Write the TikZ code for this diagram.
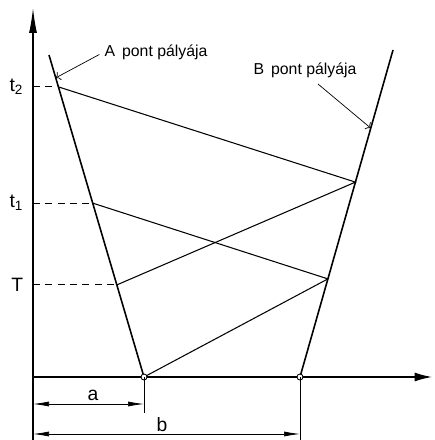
\documentclass[tikz,border=0pt]{standalone}
\usepackage{fontspec}
\setmainfont{Liberation Sans}
\usetikzlibrary{arrows.meta,calc}
\tikzset{
  axe/.style={line width=0.7pt},
  trajet/.style={line width=0.9pt},
  signal/.style={line width=0.6pt},
  repere/.style={line width=0.5pt,dash pattern=on 4pt off 3pt},
  cote/.style={line width=0.4pt,{Latex[length=3.2mm,width=1mm]}-{Latex[length=3.2mm,width=1mm]}},
  etiquette/.style={font=\fontsize{9}{11}\selectfont},
  lettre/.style={font=\fontsize{11}{13}\selectfont},
}
\begin{document}
\begin{tikzpicture}[scale=1]
    \useasboundingbox (-0.66,-1.26) rectangle (8.04,7.54);

    % Axes
    \coordinate (O) at (0,0);
    \coordinate (ybas) at (0,-1.26);
    \coordinate (yhaut) at (0,7.38);
    \coordinate (xfin) at (7.98,0);
    \draw[axe,-{Latex[length=5mm,width=1.6mm]}] (ybas) -- (yhaut);
    \draw[axe,-{Latex[length=3.5mm,width=1.8mm]}] (O) -- (xfin);

    % Trajectoires des points A et B
    \coordinate (a0) at (2.22,0);
    \coordinate (afin) at (0.32,6.44);
    \coordinate (b0) at (5.34,0);
    \coordinate (bfin) at (7.2,6.54);
    \draw[trajet] (a0) -- (afin);
    \draw[trajet] (b0) -- (bfin);

    % Signaux aller-retour
    \coordinate (aT) at ($(a0)!0.286!(afin)$);
    \coordinate (a1) at ($(a0)!0.540!(afin)$);
    \coordinate (a2) at ($(a0)!0.901!(afin)$);
    \coordinate (b1) at ($(b0)!0.300!(bfin)$);
    \coordinate (b2) at ($(b0)!0.596!(bfin)$);
    \draw[signal] (a0) -- (b1) -- (a1);
    \draw[signal] (aT) -- (b2) -- (a2);

    % Reperes des instants
    \coordinate (yT) at (O |- aT);
    \coordinate (y1) at (O |- a1);
    \coordinate (y2) at (O |- a2);
    \draw[repere] (yT) -- (aT);
    \draw[repere] (y1) -- (a1);
    \draw[repere] (y2) -- (a2);
    \node[lettre, left, xshift=-2pt] (lT) at (yT) {T};
    \node[lettre, left, xshift=-2pt] (l1) at (y1) {t\textsubscript{1}};
    \node[lettre, left, xshift=-2pt] (l2) at (y2) {t\textsubscript{2}};

    % Legendes des trajectoires
    \node[etiquette] (legA) at (2.46,6.5) {A\, pont pályája};
    \coordinate (flecheA) at ($(a0)!0.929!(afin)$);
    \draw[line width=0.4pt,->] ($(legA.west)+(0.02,-0.05)$) -- (flecheA);
    \node[etiquette] (legB) at (5.44,6.14) {B\, pont pályája};
    \coordinate (departB) at (5.7,5.86);
    \coordinate (flecheB) at ($(b0)!0.761!(bfin)$);
    \draw[line width=0.4pt,->] (departB) -- (flecheB);

    % Points de depart
    \draw[line width=0.5pt,fill=white] (a0) circle (0.06);
    \draw[line width=0.5pt,fill=white] (b0) circle (0.06);

    % Cotes a et b
    \coordinate (ra) at (2.22,-0.72);
    \coordinate (rb) at (5.34,-1.26);
    \draw[line width=0.4pt] (a0) -- (ra);
    \draw[line width=0.4pt] (b0) -- (rb);
    \coordinate (ca0) at (0,-0.54);
    \coordinate (ca1) at (a0 |- ca0);
    \coordinate (cb0) at (0,-1.14);
    \coordinate (cb1) at (b0 |- cb0);
    \draw[cote] (ca0) -- (ca1);
    \draw[cote] (cb0) -- (cb1);
    \node[lettre] (la) at (1.2,-0.36) {a};
    \node[lettre] (lb) at (2.58,-0.96) {b};
\end{tikzpicture}
\end{document}
